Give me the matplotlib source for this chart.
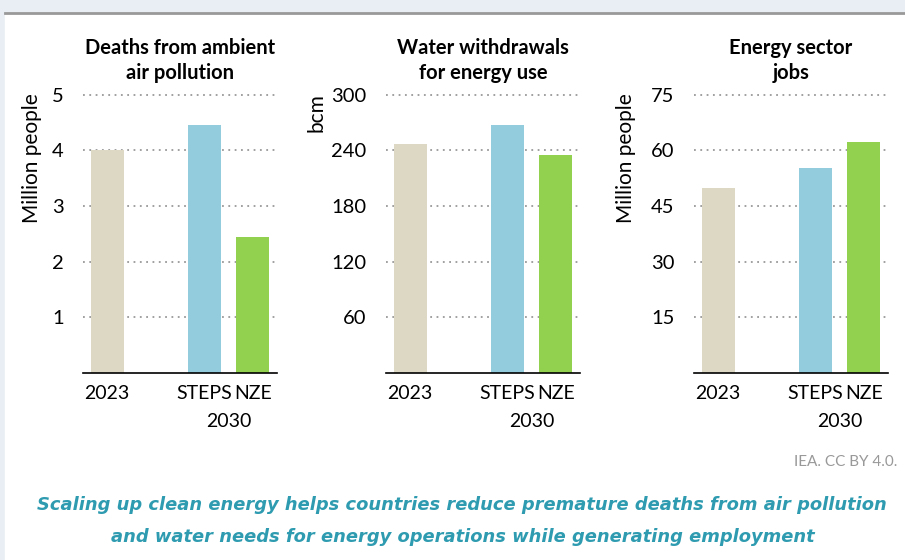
import matplotlib.pyplot as plt
from matplotlib.patches import Rectangle
from matplotlib.lines import Line2D

# data
categories = ["2023", "STEPS", "NZE"]
positions = [0, 2, 3]
titles = ["Deaths from ambient\nair pollution",
          "Water withdrawals\nfor energy use",
          "Energy sector\njobs"]
ylabels = ["Million people", "bcm", "Million people"]
deaths = [4.0, 4.45, 2.45]
water = [247, 267, 235]
jobs = [49.7, 55.1, 62.1]
yticks = [[1, 2, 3, 4, 5], [60, 120, 180, 240, 300], [15, 30, 45, 60, 75]]
ylims = [5, 300, 75]
bar_colors = ["#ddd8c4", "#93cddd", "#92d050"]

plt.rcParams['font.family'] = ['Lato', 'DejaVu Sans']

fig = plt.figure(figsize=(9.05, 5.6), dpi=100)
W, H = 905, 560

# page background and frame
fig.patches.append(Rectangle((0, 0), 1, 1, transform=fig.transFigure,
                             color="#e8eef3", zorder=-10))
fig.patches.append(Rectangle((5 / W, 0), 1, 1 - 13 / H, transform=fig.transFigure,
                             color="white", zorder=-9))
fig.lines.append(Line2D([5 / W, 1], [1 - 13 / H, 1 - 13 / H], transform=fig.transFigure,
                        color="#999999", lw=2))

series = [deaths, water, jobs]
lefts = [83, 386, 694]
ylab_x = [32, 316, 626]
ylab_y = [158, 113, 158]
fs = 14.5

for i in range(3):
    ax = fig.add_axes([lefts[i] / W, 1 - 373 / H, 194 / W, (373 - 94) / H])
    ax.bar(positions, series[i], width=0.68, color=bar_colors, zorder=2)
    ax.set_xlim(-0.5, 3.5)
    ax.set_ylim(0, ylims[i] * 1.002)
    ax.set_yticks(yticks[i])
    ax.set_yticklabels([str(t) for t in yticks[i]])
    ax.tick_params(axis='y', length=0, pad=14, labelsize=fs)
    ax.set_xticks([])
    ax.grid(axis='y', linestyle=(0, (1, 2.5)), color="#999999", lw=1.3, zorder=0)
    for s in ["top", "right", "left"]:
        ax.spines[s].set_visible(False)
    ax.spines["bottom"].set_linewidth(1.2)
    ax.spines["bottom"].set_zorder(3)
    for p, c in zip(positions, categories):
        ax.text(p, -0.075, c, transform=ax.get_xaxis_transform(),
                ha="center", va="center", fontsize=14)
    ax.text(2.5, -0.175, "2030", transform=ax.get_xaxis_transform(),
            ha="center", va="center", fontsize=14)
    ax.text(0.5, 1.12, titles[i], transform=ax.transAxes, ha="center", va="center",
            fontsize=14.5, fontweight="bold", linespacing=1.3)
    fig.text(ylab_x[i] / W, 1 - ylab_y[i] / H, ylabels[i], rotation=90,
             ha="center", va="center", fontsize=15)

fig.text(897 / W, 1 - 462 / H, "IEA. CC BY 4.0.", ha="right", va="center",
         fontsize=11, color="#999999")
fig.text(462 / W, 1 - 505 / H,
         "Scaling up clean energy helps countries reduce premature deaths from air pollution",
         ha="center", va="center", fontsize=12.9, color="#2e9bb0",
         family="DejaVu Sans", style="italic", fontweight="bold")
fig.text(463 / W, 1 - 537 / H,
         "and water needs for energy operations while generating employment",
         ha="center", va="center", fontsize=12.9, color="#2e9bb0",
         family="DejaVu Sans", style="italic", fontweight="bold")

fig.savefig("out.png", dpi=100)
